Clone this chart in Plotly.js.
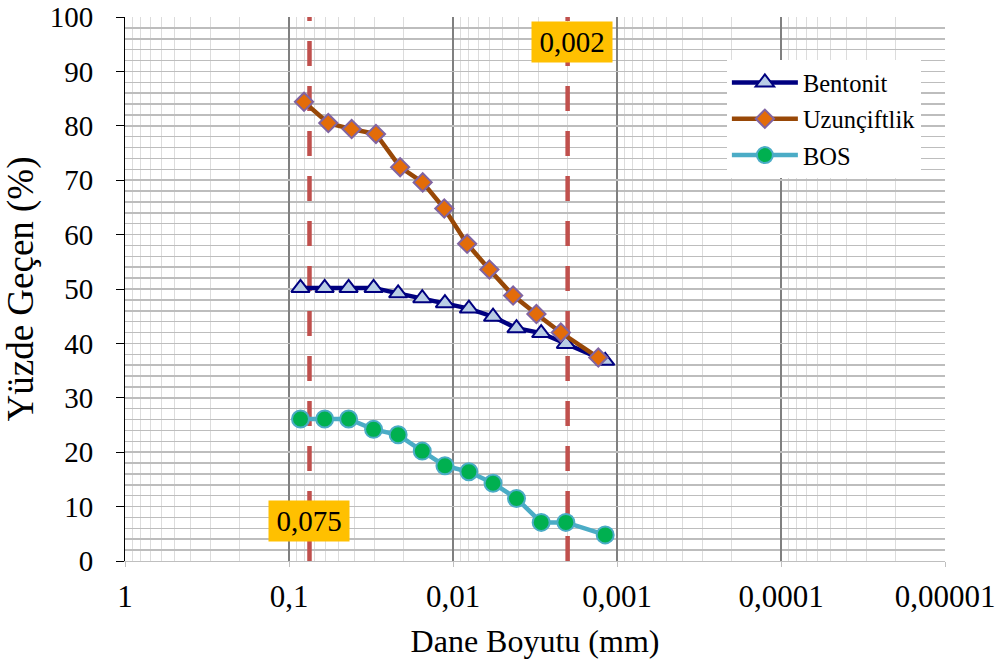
<!DOCTYPE html>
<html>
<head>
<meta charset="utf-8">
<script src="https://cdn.plot.ly/plotly-3.0.1.min.js"></script>
<style>html,body{margin:0;padding:0;background:#fff;}#chart{width:1003px;height:661px;}</style>
</head>
<body>
<div id="chart"></div>
<script>
// Grain sizes (mm)
const bentonitSize = [0.0851, 0.0606, 0.0433, 0.0305, 0.0216, 0.0154, 0.0112, 0.0080, 0.0057, 0.0041, 0.0029, 0.00205, 0.00118];
const bentonitPass = [50.2, 50.2, 50.2, 50.2, 49.2, 48.3, 47.4, 46.4, 44.9, 42.8, 41.9, 39.9, 36.8];

const uzunSize = [0.0810, 0.0576, 0.0415, 0.0295, 0.0210, 0.0153, 0.0113, 0.0082, 0.0060, 0.0043, 0.0031, 0.0022, 0.0013];
const uzunPass = [84.4, 80.5, 79.4, 78.5, 72.4, 69.6, 64.8, 58.3, 53.6, 48.8, 45.4, 42.0, 37.4];

const bosSize = [0.0851, 0.0606, 0.0433, 0.0305, 0.0216, 0.0154, 0.0112, 0.0080, 0.0057, 0.0041, 0.0029, 0.00205, 0.00118];
const bosPass = [26.1, 26.1, 26.1, 24.2, 23.2, 20.2, 17.5, 16.4, 14.3, 11.5, 7.1, 7.1, 4.8];

const refLines = [0.075, 0.002];
const refLabels = ['0,075', '0,002'];
const refLabelY = [7.4, 95.4];

const xTickVals = [1, 0.1, 0.01, 0.001, 0.0001, 0.00001];
const xTickText = ['1', '0,1', '0,01', '0,001', '0,0001', '0,00001'];

const FONT = 'Liberation Serif, Times New Roman, serif';

const minorVals = [];
for (let e = 0; e > -5; e--) {
  for (let m = 2; m <= 9; m++) minorVals.push(m * Math.pow(10, e - 1));
}

const traces = [];
refLines.forEach(v => {
  traces.push({
    x: [v, v], y: [0, 100], mode: 'lines', showlegend: false, hoverinfo: 'skip',
    line: {color: '#c0504d', width: 4.5, dash: '25px,20px'}
  });
});
traces.push({
  name: 'Bentonit', x: bentonitSize, y: bentonitPass, mode: 'lines+markers', legendgroup: 'a',
  line: {color: '#000080', width: 4.5},
  marker: {symbol: 'triangle-up', size: 16, color: '#b9cde5', line: {color: '#000080', width: 2}}
});
traces.push({
  name: 'Uzunçiftlik', x: uzunSize, y: uzunPass, mode: 'lines+markers', legendgroup: 'b',
  line: {color: '#984807', width: 4.5},
  marker: {symbol: 'diamond', size: 14, color: '#e36c09', line: {color: '#8064a2', width: 2}}
});
traces.push({
  name: 'BOS', x: bosSize, y: bosPass, mode: 'lines+markers', legendgroup: 'c',
  line: {color: '#4bacc6', width: 4.5},
  marker: {symbol: 'circle', size: 17, color: '#00b050', line: {color: '#4bacc6', width: 2}}
});

const annotations = refLines.map((v, i) => ({
  x: Math.log10(v), y: refLabelY[i], xref: 'x', yref: 'y', text: refLabels[i],
  showarrow: false, bgcolor: '#ffc000', borderpad: 0, width: 80, height: 40,
  xshift: i === 1 ? 4 : 0,
  font: {family: FONT, size: 29, color: '#000'}
}));

const layout = {
  width: 1003, height: 661,
  margin: {l: 125, r: 58, t: 17, b: 100},
  paper_bgcolor: '#fff', plot_bgcolor: '#fff',
  font: {family: FONT, size: 30, color: '#000'},
  showlegend: true,
  legend: {
    x: 0.734, y: 0.921, xanchor: 'left', yanchor: 'top',
    bgcolor: '#fff', borderwidth: 0, tracegroupgap: 1.5, itemwidth: 66,
    font: {family: FONT, size: 24.5, color: '#000'}
  },
  xaxis: {
    type: 'log', range: [0, -5],
    tickmode: 'array', tickvals: xTickVals, ticktext: xTickText,
    showgrid: true, gridcolor: '#808080', gridwidth: 1.5,
    ticks: 'outside', ticklen: 5, tickcolor: '#c0c0c0', tickwidth: 1,
    showline: true, linecolor: '#bfbfbf', linewidth: 1,
    zeroline: false, ticklabelstandoff: 3,
    tickfont: {family: FONT, size: 31},
    minor: {tickmode: 'array', tickvals: minorVals, showgrid: true, gridcolor: '#dcdcdc', gridwidth: 1, ticks: ''},
    title: {text: 'Dane Boyutu (mm)', font: {family: FONT, size: 32}, standoff: 16}
  },
  yaxis: {
    range: [0, 100], dtick: 10, tick0: 0,
    showgrid: true, gridcolor: '#bdbdbd', gridwidth: 1.5,
    ticks: 'outside', ticklen: 8, tickcolor: '#000', tickwidth: 1,
    showline: true, linecolor: '#000', linewidth: 1,
    zeroline: false, ticklabelstandoff: 17,
    tickfont: {family: FONT, size: 29},
    minor: {dtick: 2, showgrid: true, gridcolor: '#bdbdbd', gridwidth: 1.5, ticks: ''},
    title: {text: 'Yüzde Geçen (%)', font: {family: FONT, size: 37}, standoff: 6}
  },
  annotations: annotations
};

Plotly.newPlot('chart', traces, layout, {displayModeBar: false, staticPlot: true});
</script>
</body>
</html>
